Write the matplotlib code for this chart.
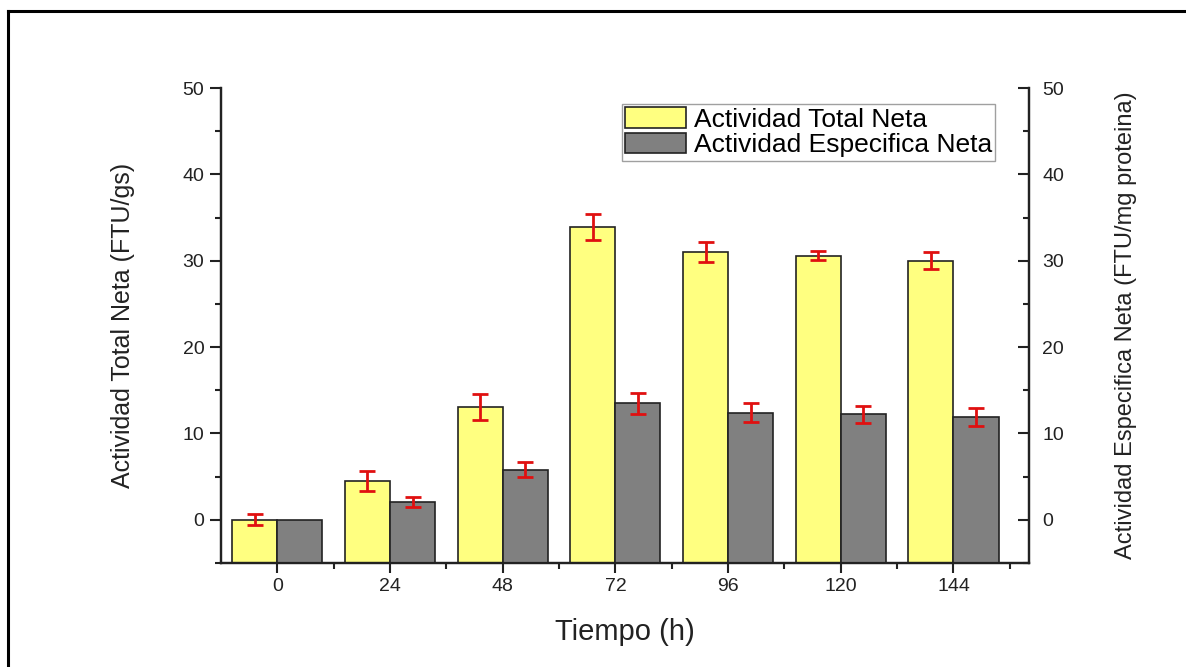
import numpy as np
import matplotlib
matplotlib.use('Agg')
import matplotlib.pyplot as plt
from matplotlib.lines import Line2D
from matplotlib.ticker import MultipleLocator

plt.rcParams['font.family'] = ['Liberation Sans', 'DejaVu Sans']

# datos del ensayo
tiempos = ['0', '24', '48', '72', '96', '120', '144']
total_neta = [0.0, 4.5, 13.1, 33.9, 31.0, 30.6, 30.0]
total_err = [0.65, 1.15, 1.5, 1.55, 1.15, 0.55, 1.0]
especifica_neta = [0.0, 2.1, 5.8, 13.5, 12.4, 12.2, 11.9]
especifica_err = [0.0, 0.6, 0.85, 1.2, 1.1, 1.0, 1.0]

y_min, y_max = -5, 50
x = np.arange(len(tiempos))
w = 0.4

fig = plt.figure(figsize=(11.86, 6.67), dpi=100)
ax = fig.add_axes([0.1863, 0.1559, 0.6813, 0.7121])
ax2 = ax.twinx()

# las barras arrancan desde el borde inferior del eje
err_kw = dict(ecolor='#e01010', elinewidth=2, capsize=5.5, capthick=2)
b1 = ax.bar(x - w / 2, np.array(total_neta) - y_min, w, bottom=y_min,
            yerr=total_err, color='#ffff80', edgecolor='#222222',
            linewidth=1.2, error_kw=err_kw, label='Actividad Total Neta',
            zorder=2)
b2 = ax2.bar(x + w / 2, np.array(especifica_neta) - y_min, w, bottom=y_min,
             yerr=[e if e > 0 else np.nan for e in especifica_err],
             color='#808080', edgecolor='#222222', linewidth=1.2,
             error_kw=err_kw, label='Actividad Especifica Neta', zorder=2)

for a in (ax, ax2):
    a.set_ylim(y_min, y_max)
    a.yaxis.set_major_locator(MultipleLocator(10))
    a.yaxis.set_minor_locator(MultipleLocator(5))
    a.spines['top'].set_visible(False)
    for s in ('left', 'right', 'bottom'):
        a.spines[s].set_linewidth(1.6)
        a.spines[s].set_color('#222222')

ax.set_xlim(-0.5, 6.67)
ax.set_xticks(x)
ax.set_xticklabels(tiempos)
ax.set_xticks(x + 0.5, minor=True)

ax.tick_params(axis='y', which='major', direction='out', length=8, width=1.5,
               labelsize=14, pad=4, colors='#222222')
ax.tick_params(axis='y', which='minor', direction='out', length=4, width=1.5,
               colors='#222222')
ax.tick_params(axis='x', which='major', direction='out', length=7, width=1.5,
               labelsize=14, pad=4, colors='#222222')
ax.tick_params(axis='x', which='minor', direction='out', length=4, width=1.5,
               colors='#222222')
ax2.tick_params(axis='y', which='major', direction='in', length=8, width=1.5,
                labelsize=14, pad=9.5, colors='#222222')
ax2.tick_params(axis='y', which='minor', direction='in', length=4, width=1.5,
                colors='#222222')

ax.set_xlabel('Tiempo (h)', fontsize=21, labelpad=16, color='#222222')
ax.set_ylabel('Actividad Total Neta (FTU/gs)', fontsize=18, labelpad=34,
              color='#222222')
ax2.set_ylabel('Actividad Especifica Neta (FTU/mg proteina)', fontsize=17,
               labelpad=36.5, color='#222222')

leg = ax.legend(handles=[b1, b2], loc='upper right',
                bbox_to_anchor=(0.958, 0.966), fontsize=19, frameon=True,
                fancybox=False, edgecolor='#888888', handlelength=2.3,
                handleheight=0.8, handletextpad=0.3, borderpad=0.12,
                labelspacing=0.06, borderaxespad=0.0)
leg.get_frame().set_linewidth(1.0)

# marco exterior
fig.add_artist(Line2D([8 / 1186, 8 / 1186], [0, 1 - 11 / 667],
                      transform=fig.transFigure, color='black', lw=2.2))
fig.add_artist(Line2D([8 / 1186, 1], [1 - 11 / 667, 1 - 11 / 667],
                      transform=fig.transFigure, color='black', lw=2.2))

fig.savefig('out.png', dpi=100)
